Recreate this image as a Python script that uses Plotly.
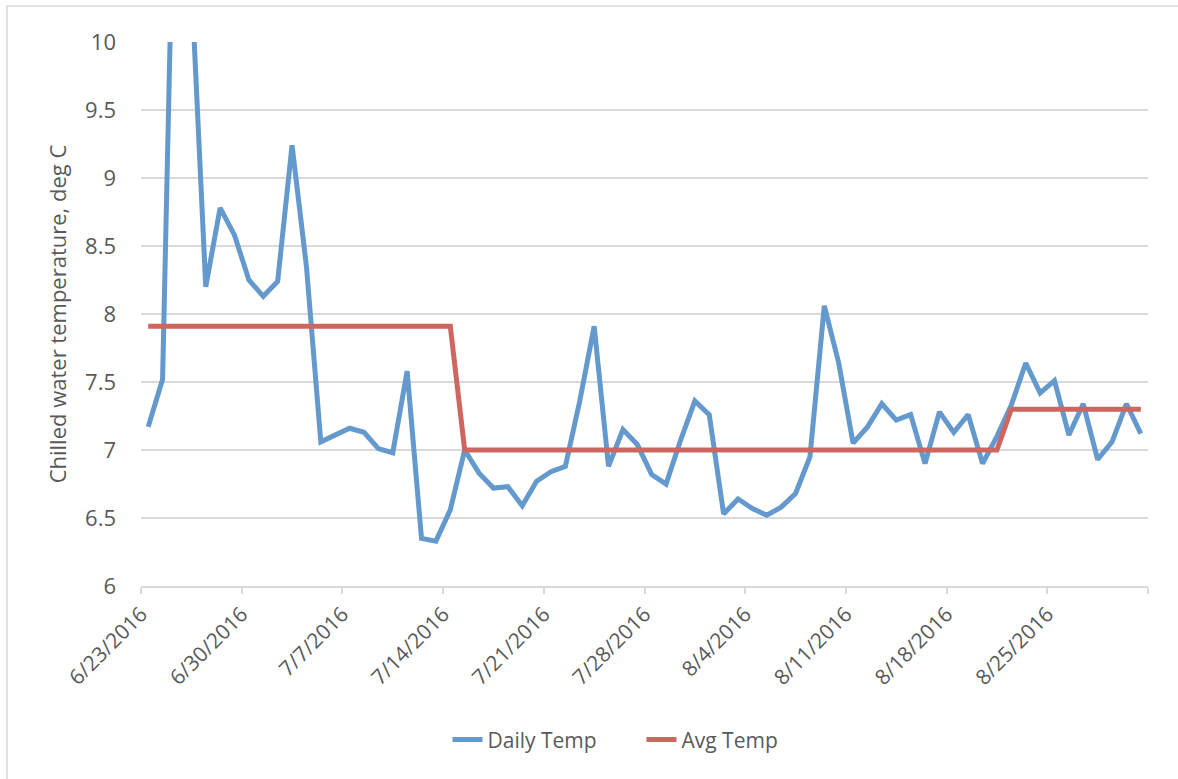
import pandas as pd
import plotly.graph_objects as go

# ---- data ----
start_date = "2016-06-23"
n_days = 70
dates = pd.date_range(start_date, periods=n_days, freq="D") + pd.Timedelta(hours=12)

daily_temp = [
    7.17, 7.52, 12.3, 10.45, 8.20, 8.78, 8.58, 8.25, 8.13, 8.24,
    9.24, 8.35, 7.06, 7.11, 7.16, 7.13, 7.01, 6.98, 7.58, 6.35,
    6.33, 6.56, 7.00, 6.83, 6.72, 6.73, 6.59, 6.77, 6.84, 6.88,
    7.36, 7.91, 6.88, 7.15, 7.04, 6.82, 6.75, 7.07, 7.36, 7.26,
    6.53, 6.64, 6.57, 6.52, 6.58, 6.68, 6.95, 8.06, 7.64, 7.05,
    7.17, 7.34, 7.22, 7.26, 6.90, 7.28, 7.13, 7.26, 6.90, 7.10,
    7.33, 7.64, 7.42, 7.51, 7.11, 7.34, 6.93, 7.06, 7.34, 7.12,
]

avg_temp = [
    7.91, 7.91, 7.91, 7.91, 7.91, 7.91, 7.91, 7.91, 7.91, 7.91,
    7.91, 7.91, 7.91, 7.91, 7.91, 7.91, 7.91, 7.91, 7.91, 7.91,
    7.91, 7.91, 7.00, 7.00, 7.00, 7.00, 7.00, 7.00, 7.00, 7.00,
    7.00, 7.00, 7.00, 7.00, 7.00, 7.00, 7.00, 7.00, 7.00, 7.00,
    7.00, 7.00, 7.00, 7.00, 7.00, 7.00, 7.00, 7.00, 7.00, 7.00,
    7.00, 7.00, 7.00, 7.00, 7.00, 7.00, 7.00, 7.00, 7.00, 7.00,
    7.30, 7.30, 7.30, 7.30, 7.30, 7.30, 7.30, 7.30, 7.30, 7.30,
]

x_range = ["2016-06-23", "2016-09-01"]
x_tick_dates = ["2016-06-23", "2016-06-30", "2016-07-07", "2016-07-14", "2016-07-21",
                "2016-07-28", "2016-08-04", "2016-08-11", "2016-08-18", "2016-08-25",
                "2016-09-01"]
x_tick_text = ["6/23/2016", "6/30/2016", "7/7/2016", "7/14/2016", "7/21/2016",
               "7/28/2016", "8/4/2016", "8/11/2016", "8/18/2016", "8/25/2016", ""]
y_ticks = [6, 6.5, 7, 7.5, 8, 8.5, 9, 9.5, 10]
y_tick_text = ["6", "6.5", "7", "7.5", "8", "8.5", "9", "9.5", "10"]

BLUE = "#6399CC"
RED = "#CD665E"
GRID = "#D9D9D9"
TXT = "#595959"
FONT = "Open Sans"

fig = go.Figure()
fig.add_trace(go.Scatter(x=dates, y=daily_temp, mode="lines", name="Daily Temp",
                         line=dict(color=BLUE, width=5)))
fig.add_trace(go.Scatter(x=dates, y=avg_temp, mode="lines", name="Avg Temp",
                         line=dict(color=RED, width=5)))

fig.update_layout(
    width=1178, height=779,
    margin=dict(l=141, r=30, t=42, b=193),
    plot_bgcolor="white", paper_bgcolor="white",
    font=dict(family=FONT, color=TXT, size=21),
    showlegend=True,
    legend=dict(orientation="h", x=0.497, xanchor="center", y=-0.283, yanchor="middle",
                font=dict(size=21, color=TXT), entrywidth=149, entrywidthmode="pixels"),
    shapes=[dict(type="rect", xref="paper", yref="paper",
                 x0=-0.1331, x1=1.04, y0=-0.5, y1=1.0662,
                 line=dict(color=GRID, width=1.5), fillcolor="rgba(0,0,0,0)", layer="below")],
)

fig.update_xaxes(
    type="date", range=x_range,
    tickmode="array", tickvals=x_tick_dates, ticktext=x_tick_text, tickangle=-45,
    ticks="outside", ticklen=6, tickcolor=GRID, tickwidth=1.5,
    showline=True, linecolor=GRID, linewidth=1.5,
    showgrid=False, zeroline=False,
    tickfont=dict(size=21, color=TXT, family=FONT),
)
fig.update_yaxes(
    range=[6, 10], tickvals=y_ticks, ticktext=y_tick_text,
    showgrid=True, gridcolor=GRID, gridwidth=1.5,
    zeroline=False, showline=False, ticks="",
    ticklabelstandoff=24,
    tickfont=dict(size=22, color=TXT, family=FONT),
    title=dict(text="Chilled water temperature, deg C", font=dict(size=22, color=TXT, family=FONT), standoff=12),
)

fig.write_html("out.html")
